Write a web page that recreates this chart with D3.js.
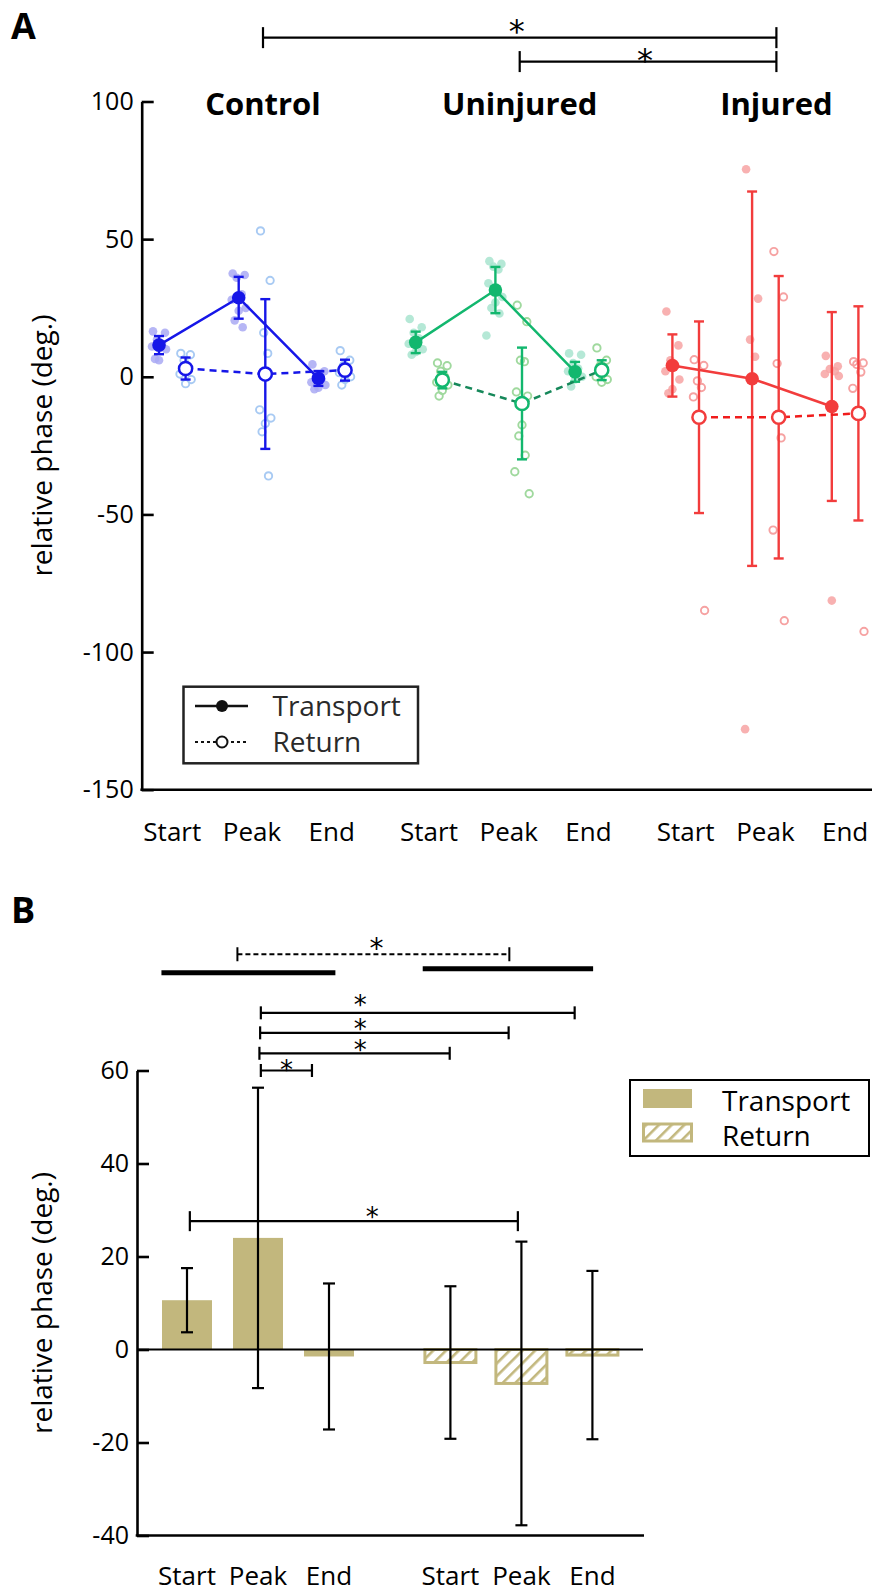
<!DOCTYPE html>
<html>
<head>
<meta charset="utf-8">
<script src="https://cdn.jsdelivr.net/npm/d3@7"></script>
<style>
body{margin:0;background:#fff;}
svg{display:block;font-family:"Open Sans",sans-serif;}
.star{font-family:"DejaVu Sans",sans-serif;}
</style>
</head>
<body>
<svg id="chart" width="872" height="1592"></svg>
<script>
// values
var groups = ["Control", "Uninjured", "Injured"];
var phases = ["Start", "Peak", "End"];
var series = ["Transport", "Return"];

// panel A : group means / SD per phase (Start, Peak, End)
var controlTransportMean = [11.5, 28.7, -0.6];
var controlTransportSD = [3.3, 7.6, 2.7];
var controlReturnMean = [3.0, 1.0, 2.4];
var controlReturnSD = [4.0, 27.2, 3.8];

var uninjuredTransportMean = [12.5, 31.5, 1.8];
var uninjuredTransportSD = [3.9, 8.4, 3.6];
var uninjuredReturnMean = [-1.2, -9.7, 2.4];
var uninjuredReturnSD = [3.0, 20.3, 3.6];

var injuredTransportMean = [4.1, -0.7, -10.8];
var injuredTransportSD = [11.3, 68.0, 34.3];
var injuredReturnMean = [-14.7, -14.7, -13.3];
var injuredReturnSD = [34.8, 51.3, 38.9];

// individual animals
var controlTransportPts = [[16.5, 16, 13.5, 12, 11, 10, 6, 6.5], [37.5, 37, 36, 30, 28, 25, 24, 20.5, 18], [4.5, 2, 0.5, -1, -2, -3, -4, -4.5]];
var controlReturnPts = [[8.5, 8, 6, 3, 1, -1, -2.5], [53, 35, 16, 8.5, -12, -15, -17, -20, -36], [9.5, 6, 4, 2.5, 1.5, 0, -1, -3]];
var uninjuredTransportPts = [[21, 18, 16, 14, 12, 10, 9, 8], [42, 41, 40, 39, 34, 29, 27, 25, 23, 15], [8.5, 8, 5, 3, 2, 0, -1, -3.5]];
var uninjuredReturnPts = [[5, 4, 2, 0, -2, -3, -5, -7], [26, 20, 6, 5.5, -5.5, -7, -17.5, -21.5, -28.5, -34.5, -42.5], [10.5, 6, 4, 2, 0, -1, -2]];
var injuredTransportPts = [[23.7, 11.4, 6, 4, 2, -1, -4.5, -6], [75.4, 28.4, 13.5, 7.3, -128], [7.6, 3.8, 2.8, 2, 1, 0.3, -81.3]];
var injuredReturnPts = [[6.2, 4.1, -1.5, -3.9, -7.3, -84.9], [45.5, 29, 4.8, -22.2, -55.7, -88.6], [5.5, 5, 4.5, 1.7, -4.2, -92.5]];

var yTicksA = [100, 50, 0, -50, -100, -150];

// panel B : pooled bars
var transportBarMean = [10.6, 24.0, -1.5];
var transportBarSD = [6.9, 32.3, 15.7];
var returnBarMean = [-2.8, -7.3, -1.2];
var returnBarSD = [16.4, 30.5, 18.1];
var yTicksB = [60, 40, 20, 0, -20, -40];

// significance brackets (A: between groups, B: in bar slots / degrees)
var sigA = [{from: "Control", to: "Injured", y: 123.2, sy: 128.3}, {from: "Uninjured", to: "Injured", y: 114.5, sy: 117.5}];
var sigB = [
  {x1: 1.04, x2: 5.46, y: 72.4, sx: 2.44, sy: 75.2, tick: 6.5},
  {x1: 1.03, x2: 4.53, y: 68.1, sx: 2.44, sy: 70.2, tick: 6.5},
  {x1: 1.02, x2: 3.70, y: 63.7, sx: 2.44, sy: 65.6, tick: 6.5},
  {x1: 1.04, x2: 1.76, y: 60.0, sx: 1.40, sy: 61.2, tick: 6.5},
  {x1: 0.04, x2: 4.66, y: 27.6, sx: 2.61, sy: 29.6, tick: 10}
];
var dashedB = {x1: 0.71, x2: 4.54, y: 85.0, sx: 2.67, sy: 87.5};
var barsB = [{x1: -0.36, x2: 2.09, y: 81.0}, {x1: 3.32, x2: 5.72, y: 81.9}];

var svg = d3.select("#chart");
var tan = "#c2b77d";
var plain = function(d){ return String(d); };

function star(x, cy, size){
  svg.append("text").attr("class", "star").attr("x", x).attr("y", cy + size * 0.56)
    .attr("text-anchor", "middle").style("font-size", size + "px").text("*");
}

// ================= panel A =================
var yA = d3.scaleLinear().domain([-150, 100]).range([789.7, 101.5]);
var gx = d3.scalePoint().domain(groups).range([252, 765.4]);
var px = d3.scalePoint().domain(phases).range([-79.7, 79.7]);
var sx = d3.scalePoint().domain(series).range([-13.3, 13.3]);
function xA(g, p, s){ return gx(g) + px(p) + (s ? sx(s) : 0); }
function titleX(g){ return gx(g) + 11; }

var colA = {
  Control:   {main: "#1616e8", tdot: "#a9a9f3", rdot: "#a8caf3", dash: "#1616e8"},
  Uninjured: {main: "#12b76e", tdot: "#a8e4cf", rdot: "#a0d99e", dash: "#16885a"},
  Injured:   {main: "#f23c3c", tdot: "#f7a3a3", rdot: "#f6a2a2", dash: "#f01c1c"}
};

var rowsA = [
  {g: "Control", s: "Transport", mean: controlTransportMean, sd: controlTransportSD, pts: controlTransportPts},
  {g: "Control", s: "Return", mean: controlReturnMean, sd: controlReturnSD, pts: controlReturnPts},
  {g: "Uninjured", s: "Transport", mean: uninjuredTransportMean, sd: uninjuredTransportSD, pts: uninjuredTransportPts},
  {g: "Uninjured", s: "Return", mean: uninjuredReturnMean, sd: uninjuredReturnSD, pts: uninjuredReturnPts},
  {g: "Injured", s: "Transport", mean: injuredTransportMean, sd: injuredTransportSD, pts: injuredTransportPts},
  {g: "Injured", s: "Return", mean: injuredReturnMean, sd: injuredReturnSD, pts: injuredReturnPts}
];

var jit = [-6, 6, -2, 3, -7, 7, 0, -4, 4, -9, 9];

var dots = [];
rowsA.forEach(function(r){
  r.pts.forEach(function(arr, i){
    arr.forEach(function(v, j){
      dots.push({g: r.g, s: r.s, p: phases[i], v: v, j: j});
    });
  });
});

var gA = svg.append("g");

gA.selectAll(".dotT").data(dots.filter(function(d){ return d.s == "Transport"; }))
  .enter().append("circle")
  .attr("cx", function(d){ return xA(d.g, d.p, d.s) + jit[d.j % jit.length]; })
  .attr("cy", function(d){ return yA(d.v); })
  .attr("r", 4.3)
  .attr("fill", function(d){ return colA[d.g].tdot; })
  .attr("fill-opacity", 0.85);

gA.selectAll(".dotR").data(dots.filter(function(d){ return d.s == "Return"; }))
  .enter().append("circle")
  .attr("cx", function(d){ return xA(d.g, d.p, d.s) + jit[d.j % jit.length] * 0.8; })
  .attr("cy", function(d){ return yA(d.v); })
  .attr("r", 3.7)
  .attr("fill", "none")
  .attr("stroke", function(d){ return colA[d.g].rdot; })
  .attr("stroke-width", 1.9);

// error bars
rowsA.forEach(function(r){
  var c = colA[r.g].main;
  var eb = gA.append("g").attr("stroke", c).attr("stroke-width", 2.4).attr("fill", "none");
  r.mean.forEach(function(m, i){
    var x = xA(r.g, phases[i], r.s);
    var hi = yA(m + r.sd[i]), lo = yA(m - r.sd[i]);
    eb.append("line").attr("x1", x).attr("x2", x).attr("y1", hi).attr("y2", lo);
    eb.append("line").attr("x1", x - 5).attr("x2", x + 5).attr("y1", hi).attr("y2", hi);
    eb.append("line").attr("x1", x - 5).attr("x2", x + 5).attr("y1", lo).attr("y2", lo);
  });
});

// mean lines + markers
var lineA = d3.line().x(function(d){ return d.x; }).y(function(d){ return d.y; });
rowsA.forEach(function(r){
  var pts = r.mean.map(function(m, i){ return {x: xA(r.g, phases[i], r.s), y: yA(m)}; });
  gA.append("path").attr("d", lineA(pts))
    .attr("fill", "none")
    .attr("stroke", r.s == "Transport" ? colA[r.g].main : colA[r.g].dash)
    .attr("stroke-width", 2.5)
    .attr("stroke-dasharray", r.s == "Transport" ? null : "7,5");
});
rowsA.forEach(function(r){
  gA.selectAll(null).data(r.mean).enter().append("circle")
    .attr("cx", function(d, i){ return xA(r.g, phases[i], r.s); })
    .attr("cy", function(d){ return yA(d); })
    .attr("r", r.s == "Transport" ? 6.8 : 6.6)
    .attr("fill", r.s == "Transport" ? colA[r.g].main : "#fff")
    .attr("stroke", colA[r.g].main)
    .attr("stroke-width", r.s == "Transport" ? 0 : 2.5);
});

// axes A
var axA = svg.append("g").attr("transform", "translate(141.7,0)")
  .call(d3.axisLeft(yA).tickValues(yTicksA).tickFormat(plain).tickSizeInner(-12).tickSizeOuter(0).tickPadding(8));
axA.attr("font-family", null).attr("font-size", null);
axA.select(".domain").attr("stroke", "#000").attr("stroke-width", 2.6);
axA.selectAll(".tick line").attr("stroke", "#000").attr("stroke-width", 2.6);
axA.selectAll(".tick text").attr("fill", "#000").style("font-size", "25px");

svg.append("line").attr("x1", 140.4).attr("x2", 872).attr("y1", yA(-150)).attr("y2", yA(-150))
  .attr("stroke", "#000").attr("stroke-width", 2.6);

groups.forEach(function(g){
  phases.forEach(function(p){
    svg.append("text").attr("x", xA(g, p)).attr("y", 841)
      .attr("text-anchor", "middle").style("font-size", "26px").text(p);
  });
  svg.append("text").attr("x", titleX(g)).attr("y", 115)
    .attr("text-anchor", "middle").style("font-size", "31px").style("font-weight", "bold").text(g);
});

svg.append("text").attr("transform", "translate(52," + ((yA(100) + yA(-150)) / 2) + ") rotate(-90)")
  .attr("text-anchor", "middle").style("font-size", "28px").text("relative phase (deg.)");

// significance A
sigA.forEach(function(s){
  var x1 = titleX(s.from), x2 = titleX(s.to), y = yA(s.y);
  var b = svg.append("g").attr("stroke", "#000").attr("stroke-width", 2.2);
  b.append("line").attr("x1", x1).attr("x2", x2).attr("y1", y).attr("y2", y);
  b.append("line").attr("x1", x1).attr("x2", x1).attr("y1", y - 10.5).attr("y2", y + 10.5);
  b.append("line").attr("x1", x2).attr("x2", x2).attr("y1", y - 10.5).attr("y2", y + 10.5);
  star((x1 + x2) / 2 - 3, yA(s.sy), 32);
});

// legend A
var lgA = svg.append("g");
lgA.append("rect").attr("x", 183.5).attr("y", 686.7).attr("width", 234.5).attr("height", 76.6)
  .attr("fill", "#fff").attr("stroke", "#222").attr("stroke-width", 2.5);
lgA.append("line").attr("x1", 195).attr("x2", 248).attr("y1", 706).attr("y2", 706).attr("stroke", "#111").attr("stroke-width", 2.5);
lgA.append("circle").attr("cx", 222).attr("cy", 706).attr("r", 6).attr("fill", "#111");
lgA.append("line").attr("x1", 195).attr("x2", 248).attr("y1", 742).attr("y2", 742).attr("stroke", "#111").attr("stroke-width", 2).attr("stroke-dasharray", "3,3");
lgA.append("circle").attr("cx", 222).attr("cy", 742).attr("r", 5.5).attr("fill", "#fff").attr("stroke", "#111").attr("stroke-width", 2);
lgA.append("text").attr("x", 272.5).attr("y", 716).style("font-size", "28px").attr("fill", "#2a2a2a").text(series[0]);
lgA.append("text").attr("x", 272.5).attr("y", 752).style("font-size", "28px").attr("fill", "#2a2a2a").text(series[1]);

svg.append("text").attr("x", 11).attr("y", 39).style("font-size", "36px").style("font-weight", "bold").text("A");

// ================= panel B =================
var yB = d3.scaleLinear().domain([-40, 60]).range([1535.5, 1070.5]);
var slot = d3.scaleLinear().domain([0, 1]).range([187, 258]);
var seriesSlot = {Transport: 0, Return: 3.71};
function xB(s, p){ return slot(seriesSlot[s] + phases.indexOf(p)); }

var defs = svg.append("defs");
var pat = defs.append("pattern").attr("id", "hatch").attr("patternUnits", "userSpaceOnUse")
  .attr("width", 9).attr("height", 9).attr("patternTransform", "rotate(45)");
pat.append("rect").attr("width", 9).attr("height", 9).attr("fill", "#fff");
pat.append("rect").attr("x", 0).attr("width", 2.6).attr("height", 9).attr("fill", tan);

var rowsB = [
  {s: "Transport", mean: transportBarMean, sd: transportBarSD},
  {s: "Return", mean: returnBarMean, sd: returnBarSD}
];

var gB = svg.append("g");
rowsB.forEach(function(r){
  gB.selectAll(null).data(r.mean).enter().append("rect")
    .attr("x", function(d, i){ return xB(r.s, phases[i]) - (r.s == "Transport" ? 25 : 25.5); })
    .attr("width", r.s == "Transport" ? 50 : 51)
    .attr("y", function(d){ return yB(Math.max(0, d)); })
    .attr("height", function(d){ return Math.abs(yB(d) - yB(0)); })
    .attr("fill", r.s == "Transport" ? tan : "url(#hatch)")
    .attr("stroke", r.s == "Transport" ? "none" : tan)
    .attr("stroke-width", 3);
});

svg.append("line").attr("x1", 137).attr("x2", 643).attr("y1", yB(0)).attr("y2", yB(0))
  .attr("stroke", "#000").attr("stroke-width", 2.2);

rowsB.forEach(function(r){
  var eb = gB.append("g").attr("stroke", "#000").attr("stroke-width", 2.2);
  r.mean.forEach(function(m, i){
    var x = xB(r.s, phases[i]);
    var hi = yB(m + r.sd[i]), lo = yB(m - r.sd[i]);
    eb.append("line").attr("x1", x).attr("x2", x).attr("y1", hi).attr("y2", lo);
    eb.append("line").attr("x1", x - 6).attr("x2", x + 6).attr("y1", hi).attr("y2", hi);
    eb.append("line").attr("x1", x - 6).attr("x2", x + 6).attr("y1", lo).attr("y2", lo);
  });
});

var axB = svg.append("g").attr("transform", "translate(137,0)")
  .call(d3.axisLeft(yB).tickValues(yTicksB).tickFormat(plain).tickSizeInner(-12).tickSizeOuter(0).tickPadding(8));
axB.attr("font-family", null).attr("font-size", null);
axB.select(".domain").attr("stroke", "#000").attr("stroke-width", 2.6);
axB.selectAll(".tick line").attr("stroke", "#000").attr("stroke-width", 2.6);
axB.selectAll(".tick text").attr("fill", "#000").style("font-size", "25px");

svg.append("line").attr("x1", 135.7).attr("x2", 644).attr("y1", yB(-40)).attr("y2", yB(-40))
  .attr("stroke", "#000").attr("stroke-width", 2.6);

series.forEach(function(s){
  phases.forEach(function(p){
    svg.append("text").attr("x", xB(s, p)).attr("y", 1585)
      .attr("text-anchor", "middle").style("font-size", "26px").text(p);
  });
});

svg.append("text").attr("transform", "translate(52," + ((yB(60) + yB(-40)) / 2) + ") rotate(-90)")
  .attr("text-anchor", "middle").style("font-size", "28px").text("relative phase (deg.)");

// significance B
sigB.forEach(function(s){
  var x1 = slot(s.x1), x2 = slot(s.x2), y = yB(s.y);
  var b = svg.append("g").attr("stroke", "#000").attr("stroke-width", 2.2);
  b.append("line").attr("x1", x1).attr("x2", x2).attr("y1", y).attr("y2", y);
  b.append("line").attr("x1", x1).attr("x2", x1).attr("y1", y - s.tick).attr("y2", y + s.tick);
  b.append("line").attr("x1", x2).attr("x2", x2).attr("y1", y - s.tick).attr("y2", y + s.tick);
  star(slot(s.sx), yB(s.sy), 26);
});
(function(){
  var x1 = slot(dashedB.x1), x2 = slot(dashedB.x2), y = yB(dashedB.y);
  var b = svg.append("g").attr("stroke", "#000").attr("stroke-width", 2);
  b.append("line").attr("x1", x1).attr("x2", x2).attr("y1", y).attr("y2", y).attr("stroke-dasharray", "5,3");
  b.append("line").attr("x1", x1).attr("x2", x1).attr("y1", y - 7).attr("y2", y + 7);
  b.append("line").attr("x1", x2).attr("x2", x2).attr("y1", y - 7).attr("y2", y + 7);
  star(slot(dashedB.sx), yB(dashedB.sy), 28);
})();
barsB.forEach(function(b){
  svg.append("line").attr("x1", slot(b.x1)).attr("x2", slot(b.x2)).attr("y1", yB(b.y)).attr("y2", yB(b.y))
    .attr("stroke", "#000").attr("stroke-width", 5);
});

// legend B
var lgB = svg.append("g");
lgB.append("rect").attr("x", 630).attr("y", 1080).attr("width", 239).attr("height", 76)
  .attr("fill", "#fff").attr("stroke", "#000").attr("stroke-width", 2);
lgB.append("rect").attr("x", 643).attr("y", 1089).attr("width", 49).attr("height", 19).attr("fill", tan);
lgB.append("rect").attr("x", 643.5).attr("y", 1124).attr("width", 48).attr("height", 17)
  .attr("fill", "url(#hatch)").attr("stroke", tan).attr("stroke-width", 3);
lgB.append("text").attr("x", 722).attr("y", 1111).style("font-size", "28px").text(series[0]);
lgB.append("text").attr("x", 722).attr("y", 1146).style("font-size", "28px").text(series[1]);

svg.append("text").attr("x", 11).attr("y", 923).style("font-size", "36px").style("font-weight", "bold").text("B");
</script>
</body>
</html>
